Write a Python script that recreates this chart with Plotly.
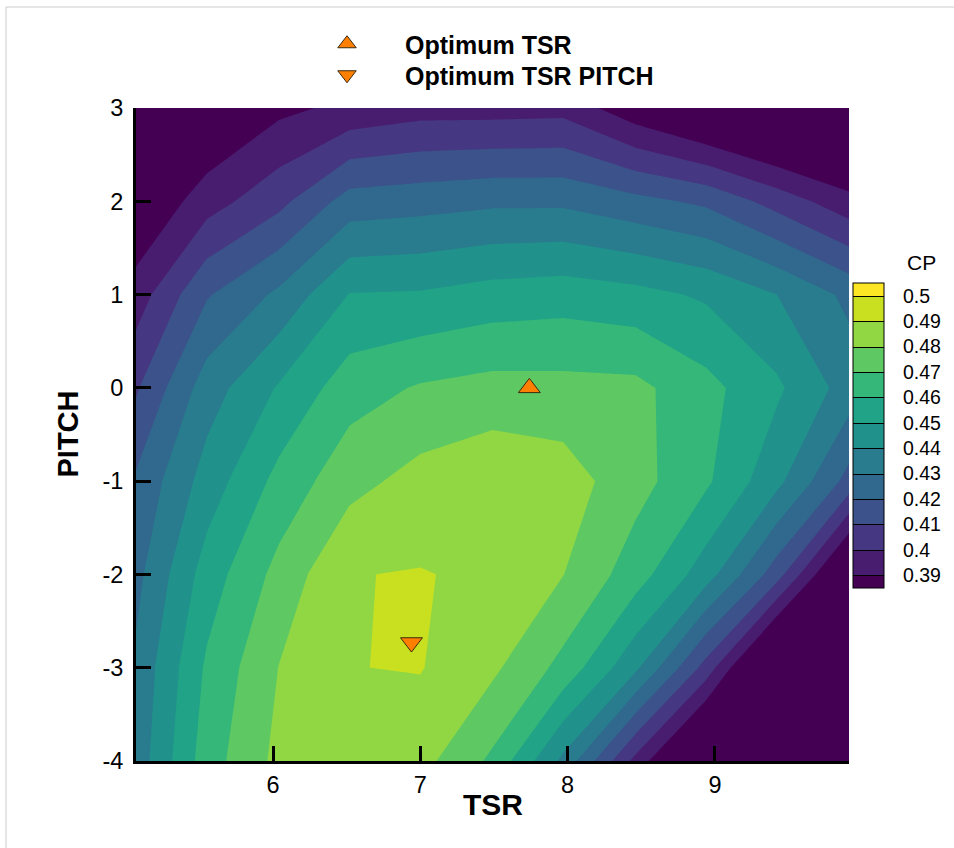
import plotly.graph_objects as go

# Grid of operating points
TSR = [5.07, 5.55, 6.04, 6.52, 7.00, 7.49, 7.97, 8.46, 8.94, 9.42, 9.91]
PITCH = [-4, -3, -2, -1, 0, 1, 2, 3]

# Power coefficient, one row per pitch value (bottom to top), one column per TSR
CP = [
    [0.4340, 0.4653, 0.4828, 0.4870, 0.4835, 0.4680, 0.4375, 0.3970, 0.3600, 0.3300, 0.3000],
    [0.4320, 0.4616, 0.4802, 0.4898, 0.4905, 0.4820, 0.4669, 0.4422, 0.4060, 0.3600, 0.3300],
    [0.4270, 0.4546, 0.4733, 0.4897, 0.4905, 0.4882, 0.4802, 0.4648, 0.4447, 0.4145, 0.3690],
    [0.4215, 0.4443, 0.4631, 0.4766, 0.4837, 0.4879, 0.4849, 0.4738, 0.4617, 0.4429, 0.4164],
    [0.4087, 0.4350, 0.4510, 0.4655, 0.4710, 0.4735, 0.4732, 0.4727, 0.4632, 0.4518, 0.4356],
    [0.3947, 0.4190, 0.4320, 0.4504, 0.4510, 0.4542, 0.4556, 0.4532, 0.4485, 0.4400, 0.4276],
    [0.3790, 0.3955, 0.4070, 0.4243, 0.4260, 0.4280, 0.4280, 0.4230, 0.4180, 0.4060, 0.3935],
    [0.3650, 0.3770, 0.3875, 0.3925, 0.3960, 0.3960, 0.3966, 0.3830, 0.3720, 0.3630, 0.3600],
]

# Optimum points
OPT_TSR_X = [7.74]
OPT_TSR_Y = [0.0]
OPT_PITCH_X = [6.94]
OPT_PITCH_Y = [-2.73]

# Contour levels and colour bar labels
LEVEL_START, LEVEL_END, LEVEL_STEP = 0.39, 0.50, 0.01
CB_TICKS = [0.39, 0.40, 0.41, 0.42, 0.43, 0.44, 0.45, 0.46, 0.47, 0.48, 0.49, 0.50]
CB_LABELS = ["0.39", "0.4", "0.41", "0.42", "0.43", "0.44", "0.45", "0.46",
             "0.47", "0.48", "0.49", "0.5"]
X_TICKS = [6, 7, 8, 9]
X_LABELS = ["6", "7", "8", "9"]
Y_TICKS = [-4, -3, -2, -1, 0, 1, 2, 3]
Y_LABELS = ["-4", "-3", "-2", "-1", "0", "1", "2", "3"]

# One colour per band (below 0.39 ... above 0.50), viridis sampled evenly
BAND_COLORS = ["#440154", "#481c6e", "#453781", "#3b528b", "#31688e", "#287c8e",
               "#21918c", "#20a386", "#35b779", "#5ec962", "#90d743", "#c8e020",
               "#fde725"]
n = len(BAND_COLORS) - 1
COLORSCALE = [[i / n, c] for i, c in enumerate(BAND_COLORS)]

FONT = "Liberation Sans, Arial, sans-serif"
W, H = 954, 848
L, R, T, B = 136, 105, 108, 87
PW, PH = W - L - R, H - T - B


def px_x(px):
    return (px - L) / PW


def px_y(py):
    return (H - B - py) / PH


contours = dict(start=LEVEL_START, end=LEVEL_END, size=LEVEL_STEP, coloring="fill")

fig = go.Figure()

# Filled contour field
fig.add_trace(go.Contour(
    x=TSR, y=PITCH, z=CP,
    colorscale=COLORSCALE,
    contours=dict(contours, showlines=False),
    line=dict(smoothing=0, width=0),
    showscale=False, showlegend=False, hoverinfo="skip",
))

# Same field on a hidden axis pair; it only supplies the banded colour bar
fig.add_trace(go.Contour(
    x=TSR, y=PITCH, z=CP,
    xaxis="x2", yaxis="y2",
    colorscale=COLORSCALE,
    contours=dict(contours, showlines=True),
    line=dict(smoothing=0, width=1, color="black"),
    showlegend=False, hoverinfo="skip",
    colorbar=dict(
        x=px_x(853), xanchor="left", xpad=0,
        y=px_y(435.5), yanchor="middle", ypad=0,
        lenmode="pixels", len=305, thickness=31,
        outlinewidth=1, outlinecolor="black",
        tickmode="array", tickvals=CB_TICKS, ticktext=CB_LABELS,
        ticks="outside", ticklen=15, tickcolor="rgba(0,0,0,0)",
        tickfont=dict(size=19.5, color="black", family=FONT),
    ),
))

marker_style = dict(size=19, color="#ff8000", line=dict(color="#3a2a10", width=1))

fig.add_trace(go.Scatter(
    x=OPT_TSR_X, y=OPT_TSR_Y, mode="markers", name="Optimum TSR",
    marker=dict(marker_style, symbol="triangle-up"),
    legend="legend", showlegend=True,
))
fig.add_trace(go.Scatter(
    x=OPT_PITCH_X, y=OPT_PITCH_Y, mode="markers", name="Optimum TSR PITCH",
    marker=dict(marker_style, symbol="triangle-down"),
    legend="legend2", showlegend=True,
))

axis_common = dict(
    showgrid=False, zeroline=False, showline=True, linewidth=3, linecolor="black",
    ticks="inside", ticklen=15, tickwidth=3, tickcolor="black",
    tickfont=dict(size=23.5, color="black", family=FONT),
    mirror=False, tickmode="array",
)

legend_common = dict(
    xanchor="left", yanchor="top", itemwidth=106, visible=True,
    bgcolor="rgba(0,0,0,0)", borderwidth=0,
    font=dict(size=25, family=FONT, color="black", weight="bold"),
)

fig.update_layout(
    width=W, height=H,
    margin=dict(l=L, r=R, t=T, b=B, pad=0),
    paper_bgcolor="white", plot_bgcolor="white",
    font=dict(family=FONT, color="black"),
    showlegend=True,
    xaxis=dict(axis_common, range=[TSR[0], TSR[-1]], tickvals=X_TICKS, ticktext=X_LABELS,
               ticklabelstandoff=1),
    yaxis=dict(axis_common, range=[PITCH[0], PITCH[-1]], tickvals=Y_TICKS, ticktext=Y_LABELS,
               ticklabelstandoff=5),
    xaxis2=dict(overlaying="x", range=[100, 101], visible=False),
    yaxis2=dict(overlaying="y", range=[100, 101], visible=False),
    legend=dict(legend_common, x=px_x(289), y=px_y(21)),
    legend2=dict(legend_common, x=px_x(289), y=px_y(52)),
    annotations=[
        dict(text="TSR", x=0.5, y=px_y(804), xref="paper", yref="paper",
             showarrow=False, xanchor="center", yanchor="middle",
             font=dict(size=30, family=FONT, color="black", weight="bold")),
        dict(text="PITCH", x=px_x(67), y=0.5, xref="paper", yref="paper",
             showarrow=False, xanchor="center", yanchor="middle", textangle=-90,
             font=dict(size=29, family=FONT, color="black", weight="bold")),
        dict(text="CP", x=px_x(921), y=px_y(262), xref="paper", yref="paper",
             showarrow=False, xanchor="center", yanchor="middle",
             font=dict(size=21, family=FONT, color="black")),
    ],
    shapes=[
        dict(type="line", xref="paper", yref="paper",
             x0=px_x(6), x1=px_x(W + 5), y0=px_y(7), y1=px_y(7),
             line=dict(color="#cccccc", width=1)),
        dict(type="line", xref="paper", yref="paper",
             x0=px_x(6), x1=px_x(6), y0=px_y(7), y1=px_y(H + 5),
             line=dict(color="#cccccc", width=1)),
    ],
)

fig.write_html("out.html")
